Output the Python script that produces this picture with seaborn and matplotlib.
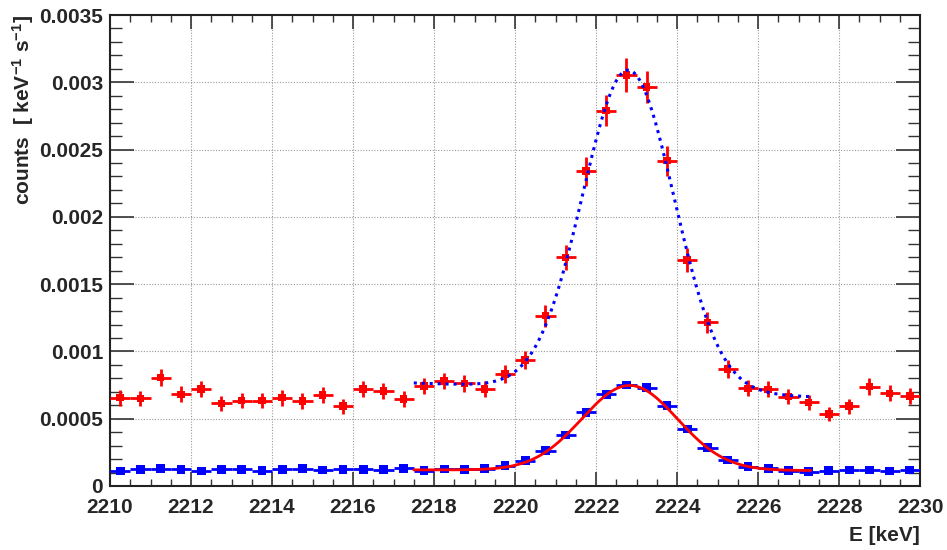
import matplotlib
matplotlib.use("Agg")
import matplotlib.pyplot as plt
import numpy as np
import pandas as pd
import seaborn as sns
from matplotlib.ticker import MultipleLocator, FuncFormatter

# --- data: 0.5 keV bins from 2210 to 2230 ---
bin_center = np.arange(2210.25, 2230.0, 0.5)
bin_half = 0.25

red_counts = [0.000656, 0.000651, 0.000805, 0.000681, 0.000721, 0.000614, 0.000634, 0.000634,
              0.000656, 0.000632, 0.000676, 0.000594, 0.000721, 0.000706, 0.000646, 0.000743,
              0.000780, 0.000763, 0.000721, 0.000832, 0.000936, 0.001265, 0.001700, 0.002340,
              0.002790, 0.003054, 0.002965, 0.002417, 0.001679, 0.001215, 0.000870, 0.000726,
              0.000718, 0.000664, 0.000622, 0.000535, 0.000594, 0.000738, 0.000689, 0.000669]
red_err = [0.000058, 0.000058, 0.000064, 0.000059, 0.000060, 0.000056, 0.000057, 0.000057,
           0.000058, 0.000057, 0.000059, 0.000056, 0.000060, 0.000059, 0.000057, 0.000061,
           0.000062, 0.000061, 0.000060, 0.000064, 0.000068, 0.000080, 0.000093, 0.000108,
           0.000118, 0.000124, 0.000122, 0.000110, 0.000092, 0.000079, 0.000066, 0.000060,
           0.000060, 0.000058, 0.000056, 0.000052, 0.000056, 0.000061, 0.000059, 0.000058]

blue_counts = [0.000111, 0.000124, 0.000129, 0.000124, 0.000111, 0.000124, 0.000124, 0.000114,
               0.000124, 0.000129, 0.000119, 0.000124, 0.000124, 0.000120, 0.000131, 0.000114,
               0.000126, 0.000124, 0.000129, 0.000151, 0.000188, 0.000262, 0.000379, 0.000548,
               0.000681, 0.000750, 0.000730, 0.000597, 0.000424, 0.000285, 0.000193, 0.000143,
               0.000131, 0.000114, 0.000106, 0.000114, 0.000119, 0.000119, 0.000111, 0.000119]
blue_err = [0.000008, 0.000009, 0.000009, 0.000009, 0.000008, 0.000009, 0.000009, 0.000008,
            0.000009, 0.000009, 0.000009, 0.000009, 0.000009, 0.000009, 0.000009, 0.000008,
            0.000009, 0.000009, 0.000009, 0.000010, 0.000011, 0.000013, 0.000016, 0.000019,
            0.000021, 0.000022, 0.000022, 0.000019, 0.000017, 0.000013, 0.000011, 0.000010,
            0.000009, 0.000008, 0.000008, 0.000008, 0.000009, 0.000009, 0.000008, 0.000009]

# fit results (gaussian + linear background), fit range in keV
fit_range = (2217.5, 2227.3)
fit_red_data = dict(mu=2222.80, sigma=1.13, amp=0.00238, bg0=0.000710, slope=-0.0000105)
fit_blue_data = dict(mu=2222.83, sigma=1.18, amp=0.000630, bg0=0.000117, slope=-0.0000005)


def gauss_lin(x, mu, sigma, amp, bg0, slope):
    return bg0 + slope * (x - mu) + amp * np.exp(-0.5 * ((x - mu) / sigma) ** 2)


df = pd.DataFrame({"E": bin_center, "red": red_counts, "red_err": red_err,
                   "blue": blue_counts, "blue_err": blue_err})
e_fine = np.linspace(*fit_range, 400)
fits = pd.DataFrame({"E": e_fine,
                     "fit_red": gauss_lin(e_fine, **fit_red_data),
                     "fit_blue": gauss_lin(e_fine, **fit_blue_data)})

sns.set_theme(style="white")
plt.rcParams["font.family"] = ["Liberation Sans", "DejaVu Sans"]
plt.rcParams["font.weight"] = "bold"
plt.rcParams["mathtext.fontset"] = "custom"
plt.rcParams["mathtext.rm"] = "Liberation Sans:bold"
plt.rcParams["mathtext.default"] = "rm"

fig = plt.figure(figsize=(9.47, 5.5), dpi=100)
ax = fig.add_axes([0.1162, 0.1164, 0.8553, 0.8563])

# blue histogram points
ax.errorbar(df["E"], df["blue"], xerr=bin_half, yerr=df["blue_err"], fmt="none",
            ecolor="#0000ff", elinewidth=2.0, capsize=0, zorder=3)
sns.scatterplot(data=df, x="E", y="blue", ax=ax, marker="s", s=40, color="#0000ff",
                edgecolor="none", zorder=4)

# red histogram points
ax.errorbar(df["E"], df["red"], xerr=bin_half, yerr=df["red_err"], fmt="none",
            ecolor="#ff0000", elinewidth=2.0, capsize=0, zorder=3)
sns.scatterplot(data=df, x="E", y="red", ax=ax, marker="s", s=28, color="#ff0000",
                edgecolor="none", zorder=4)

# fits
sns.lineplot(data=fits, x="E", y="fit_blue", ax=ax, color="#ff0000", lw=2.0, zorder=5)
sns.lineplot(data=fits, x="E", y="fit_red", ax=ax, color="#0000ff", lw=2.2,
             linestyle=(0, (1, 1.6)), zorder=5)

ax.set_xlim(2210, 2230)
ax.set_ylim(0, 0.0035)
ax.xaxis.set_major_locator(MultipleLocator(2))
ax.xaxis.set_minor_locator(MultipleLocator(0.5))
ax.yaxis.set_major_locator(MultipleLocator(0.0005))
ax.yaxis.set_minor_locator(MultipleLocator(0.0001))
ax.yaxis.set_major_formatter(FuncFormatter(lambda v, p: f"{v:g}"))

ax.grid(True, which="major", color="#999999", linestyle=(0, (1, 1.5)), linewidth=0.8)
ax.set_axisbelow(True)

ax.tick_params(axis="x", which="major", direction="in", length=10, width=1.2,
               top=True, bottom=True, color="#333333", labelsize=15, pad=9)
ax.tick_params(axis="x", which="minor", direction="in", length=5, width=1.0,
               top=True, bottom=True, color="#333333")
ax.tick_params(axis="y", which="major", direction="in", length=17, width=1.2,
               left=True, right=True, color="#333333", labelsize=15, pad=5)
ax.tick_params(axis="y", which="minor", direction="in", length=8.5, width=1.0,
               left=True, right=True, color="#333333")
for lab in ax.get_xticklabels() + ax.get_yticklabels():
    lab.set_fontweight("bold")

for sp in ax.spines.values():
    sp.set_color("#222222")
    sp.set_linewidth(1.5)

ax.set_xlabel("E [keV]", loc="right", fontsize=15, fontweight="bold", labelpad=6)
ax.set_ylabel("counts  [ keV$^{-1}$ s$^{-1}$]", loc="top", fontsize=15,
              fontweight="bold", labelpad=2)

fig.savefig("out.png", dpi=100, facecolor="white")
